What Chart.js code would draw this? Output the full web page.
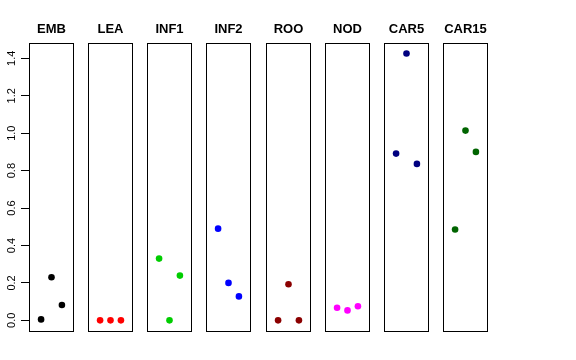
<!DOCTYPE html>
<html>
<head>
<meta charset="utf-8">
<script src="https://cdn.jsdelivr.net/npm/chart.js@4.4.1/dist/chart.umd.min.js"></script>
<style>
  html, body { margin: 0; padding: 0; background: #fff; }
  #wrap { position: relative; width: 576px; height: 360px; overflow: hidden; }
  #wrap canvas { position: absolute; top: 0; }
</style>
</head>
<body>
<div id="wrap"></div>
<script>
// Категории (панели) и их цвета
const groups = ['EMB', 'LEA', 'INF1', 'INF2', 'ROO', 'NOD', 'CAR5', 'CAR15'];
const colors = ['#000000', '#FF0000', '#00CD00', '#0000FF', '#8B0000', '#FF00FF', '#000080', '#006400'];

// Значения по трём повторам в каждой панели
const emb = [0.005, 0.23, 0.082];
const lea = [0.0, 0.0, 0.0];
const inf1 = [0.33, 0.0, 0.239];
const inf2 = [0.49, 0.20, 0.128];
const roo = [0.0, 0.193, 0.0];
const nod = [0.067, 0.053, 0.075];
const car5 = [0.891, 1.426, 0.836];
const car15 = [0.485, 1.014, 0.900];
const values = [emb, lea, inf1, inf2, roo, nod, car5, car15];

const repX = [1, 2, 3];
const yTicks = [0, 0.2, 0.4, 0.6, 0.8, 1.0, 1.2, 1.4];

// Рамка вокруг области графика
const boxPlugin = {
    id: 'box',
    afterDraw(chart) {
        const a = chart.chartArea;
        const ctx = chart.ctx;
        ctx.save();
        ctx.strokeStyle = '#000';
        ctx.lineWidth = 1;
        ctx.strokeRect(Math.round(a.left) + 0.5, Math.round(a.top) + 0.5,
            Math.round(a.right - a.left) - 1, Math.round(a.bottom - a.top));
        ctx.restore();
    }
};

const wrap = document.getElementById('wrap');
const boxLeft = 29, pitch = 59.14, boxWidth = 45;

groups.forEach((name, i) => {
    const first = i === 0;
    const left = Math.round(boxLeft + pitch * i);
    const axisW = first ? boxLeft : 0;
    const canvas = document.createElement('canvas');
    canvas.width = boxWidth + axisW;
    canvas.height = 360;
    canvas.style.left = (left - axisW) + 'px';
    canvas.style.width = canvas.width + 'px';
    canvas.style.height = '360px';
    wrap.appendChild(canvas);

    new Chart(canvas.getContext('2d'), {
        type: 'scatter',
        data: {
            datasets: [{
                data: values[i].map((v, k) => ({ x: repX[k], y: v })),
                backgroundColor: colors[i],
                borderColor: colors[i],
                pointRadius: 3.3,
                pointHoverRadius: 3.3,
                borderWidth: 0
            }]
        },
        options: {
            responsive: false,
            animation: false,
            events: [],
            layout: { autoPadding: false, padding: { left: 0, right: 0, top: 0, bottom: 29 } },
            plugins: {
                legend: { display: false },
                tooltip: { enabled: false },
                title: {
                    display: true,
                    fullSize: false,
                    text: name,
                    color: '#000',
                    font: { family: 'Liberation Sans, Arial, sans-serif', size: 13, weight: 'bold' },
                    padding: { top: 22, bottom: 5.4 }
                }
            },
            scales: {
                x: {
                    type: 'linear',
                    display: false,
                    min: -0.16,
                    max: 4.16
                },
                y: {
                    type: 'linear',
                    min: -0.057,
                    max: 1.482,
                    display: first,
                    afterBuildTicks: (scale) => {
                        scale.ticks = yTicks.map(v => ({ value: v }));
                    },
                    afterFit: (scale) => { scale.width = first ? boxLeft : 0; },
                    border: { display: false },
                    grid: {
                        drawOnChartArea: false,
                        drawTicks: true,
                        tickLength: 8,
                        color: '#000',
                        tickWidth: 1
                    },
                    ticks: {
                        minRotation: 90,
                        maxRotation: 90,
                        crossAlign: 'center',
                        padding: 1,
                        color: '#000',
                        font: { family: 'Liberation Sans, Arial, sans-serif', size: 11 },
                        callback: (v) => v.toFixed(1)
                    }
                }
            }
        },
        plugins: [boxPlugin]
    });
});
</script>
</body>
</html>
